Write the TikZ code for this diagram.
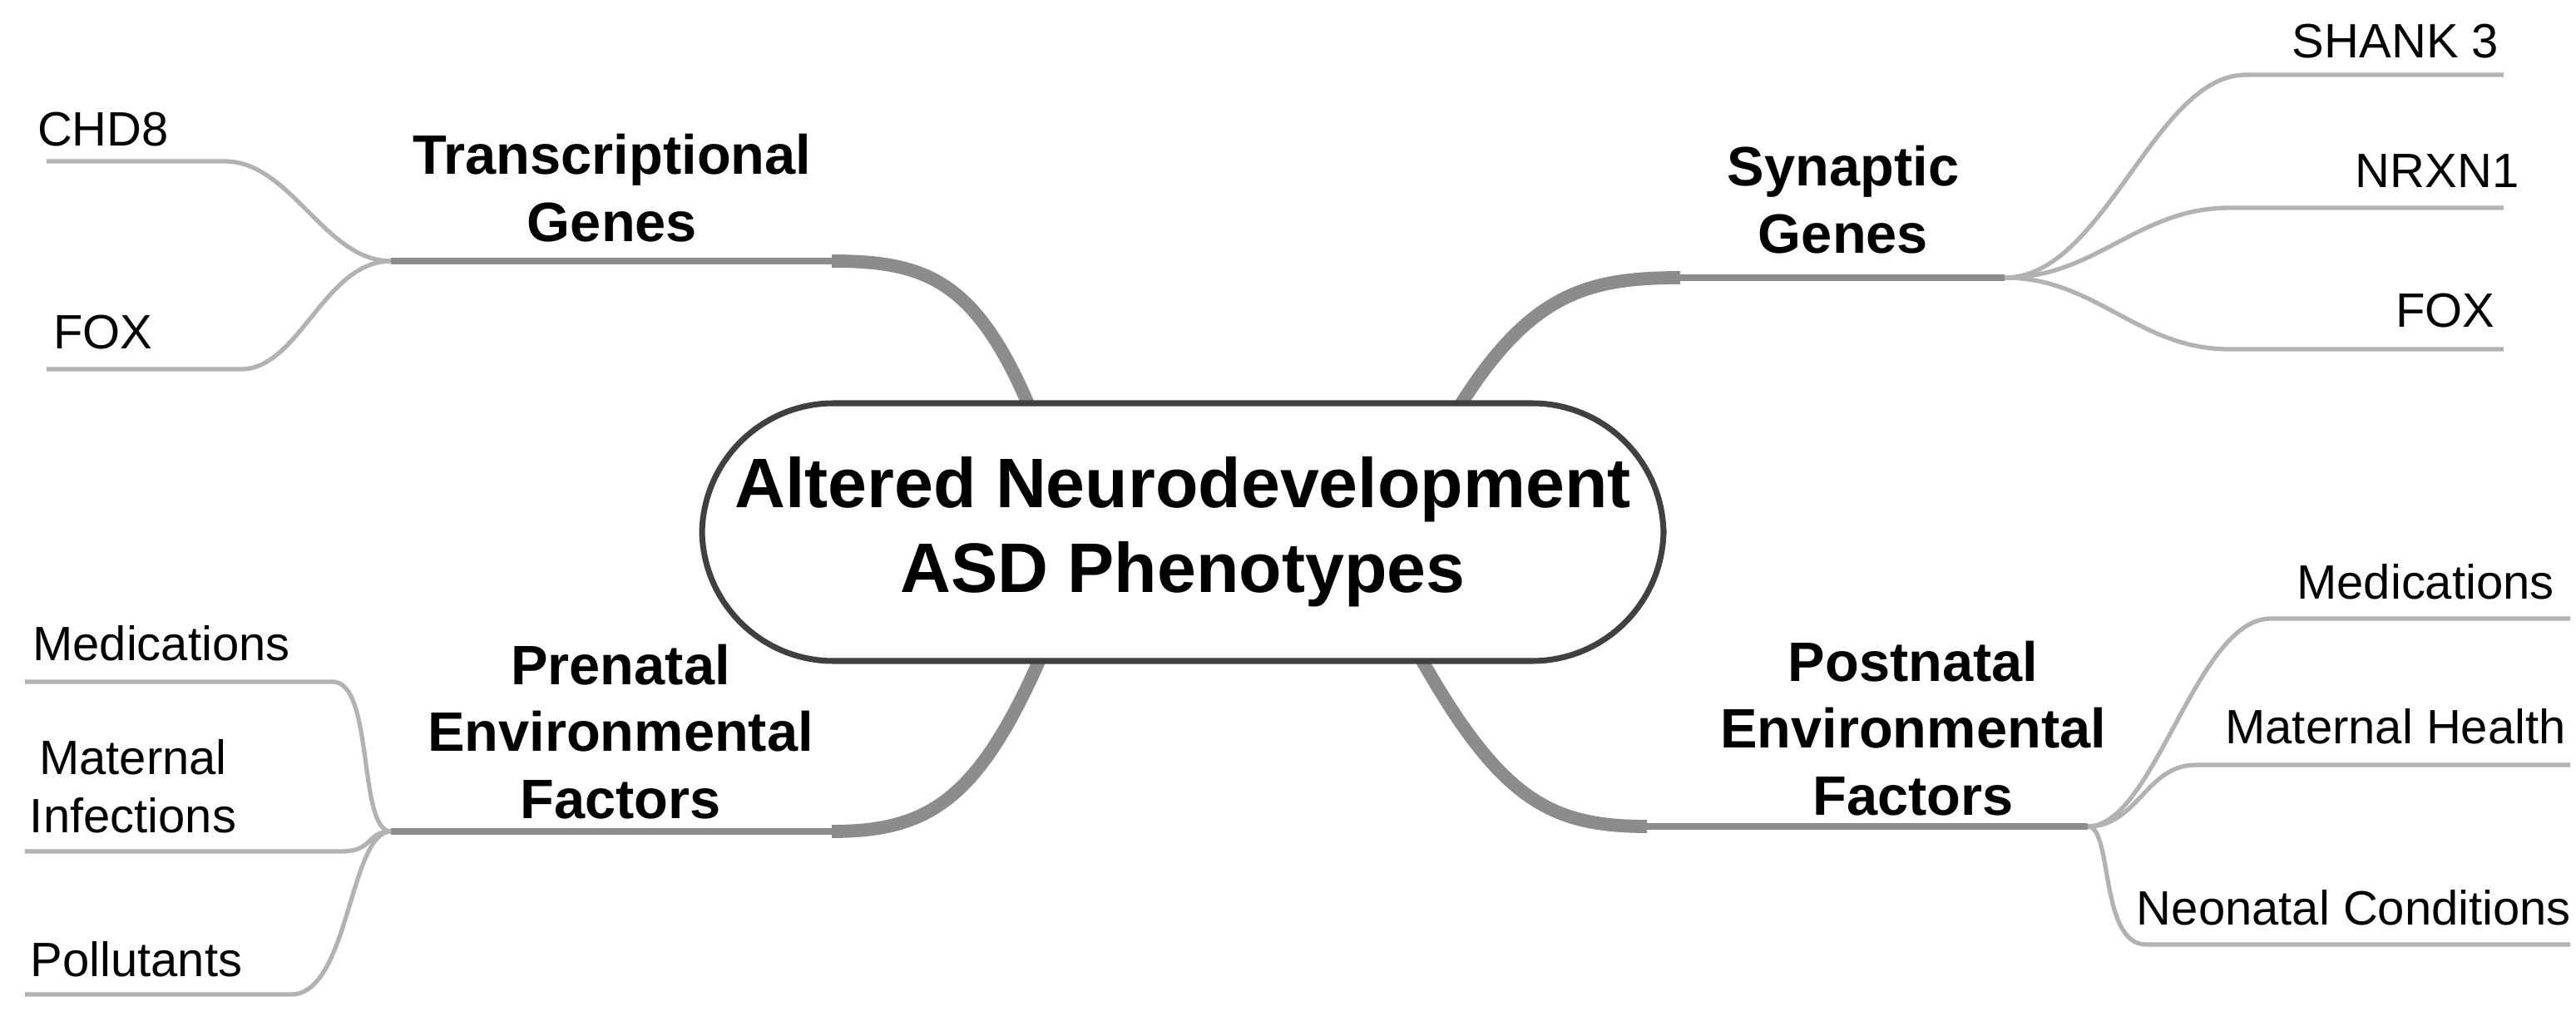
\documentclass[tikz,border=0pt]{standalone}
\usepackage{fontspec}
\setmainfont{Liberation Sans}
\begin{document}
\begin{tikzpicture}[x=0.02cm,y=-0.02cm,
  main/.style={draw=black!75,line width=2pt,rounded corners=45pt,fill=white,align=center,font=\bfseries\fontsize{24}{29}\selectfont,minimum width=578*0.02cm,minimum height=155*0.02cm,inner sep=0pt},
  cat/.style={align=center,font=\bfseries\fontsize{19}{23}\selectfont},
  leaf/.style={align=center,font=\fontsize{16.5}{20}\selectfont},
  thick/.style={draw=black!45,line width=4.5pt},
  thin/.style={draw=black!30,line width=1.5pt}]
\useasboundingbox (0,0) rectangle (1548.5,611);
\coordinate (htl) at (235,157);
\coordinate (htr) at (1205,167);
\coordinate (hbl) at (235,500);
\coordinate (hbr) at (1255,497);
\coordinate (stl) at (625,260);
\coordinate (str) at (868,260);
\coordinate (sbl) at (630,385);
\coordinate (sbr) at (848,385);
% main branches
\draw[thick] (stl) .. controls (590,170) and (560,157) .. (500,157);
\draw[thick,line width=2.5pt] (500,157) -- (htl);
\draw[thick] (str) .. controls (915,178) and (950,167) .. (1010,167);
\draw[thick,line width=2.5pt] (1010,167) -- (htr);
\draw[thick] (sbl) .. controls (590,480) and (560,500) .. (500,500);
\draw[thick,line width=2.5pt] (500,500) -- (hbl);
\draw[thick] (sbr) .. controls (900,480) and (930,497) .. (990,497);
\draw[thick,line width=2.5pt] (990,497) -- (hbr);
\node[main] (c) at (711,320) {Altered Neurodevelopment\\ASD Phenotypes};
% categories
\node[cat] (ctl) at (368,113) {Transcriptional\\Genes};
\node[cat] (ctr) at (1108,120) {Synaptic\\Genes};
\node[cat] (cbl) at (373,440) {Prenatal\\Environmental\\Factors};
\node[cat] (cbr) at (1150,438) {Postnatal\\Environmental\\Factors};
% leaves
\node[leaf] (l1) at (62,78) {CHD8};
\node[leaf] (l2) at (62,200) {FOX};
\node[leaf] (r1) at (1440,25) {SHANK 3};
\node[leaf] (r2) at (1465,103) {NRXN1};
\node[leaf] (r3) at (1470,187) {FOX};
\node[leaf] (b1) at (97,387) {Medications};
\node[leaf] (b2) at (80,473) {Maternal\\Infections};
\node[leaf] (b3) at (82,577) {Pollutants};
\node[leaf] (d1) at (1458,350) {Medications};
\node[leaf] (d2) at (1440,437) {Maternal Health};
\node[leaf] (d3) at (1415,546) {Neonatal Conditions};
% sub branches
\draw[thin] (htl) .. controls (195,157) and (175,97) .. (135,97) -- (28,97);
\draw[thin] (htl) .. controls (195,157) and (180,222) .. (145,222) -- (28,222);
\draw[thin] (htr) .. controls (1265,167) and (1295,45) .. (1350,45) -- (1505,45);
\draw[thin] (htr) .. controls (1260,167) and (1285,125) .. (1340,125) -- (1505,125);
\draw[thin] (htr) .. controls (1260,167) and (1285,210) .. (1340,210) -- (1505,210);
\draw[thin] (hbl) .. controls (215,500) and (225,410) .. (200,410) -- (15,410);
\draw[thin] (hbl) .. controls (220,500) and (225,512) .. (205,512) -- (15,512);
\draw[thin] (hbl) .. controls (210,500) and (210,598) .. (175,598) -- (15,598);
\draw[thin] (hbr) .. controls (1295,497) and (1320,372) .. (1365,372) -- (1545,372);
\draw[thin] (hbr) .. controls (1285,497) and (1290,460) .. (1320,460) -- (1545,460);
\draw[thin] (hbr) .. controls (1270,497) and (1262,568) .. (1290,568) -- (1545,568);
\end{tikzpicture}
\end{document}
